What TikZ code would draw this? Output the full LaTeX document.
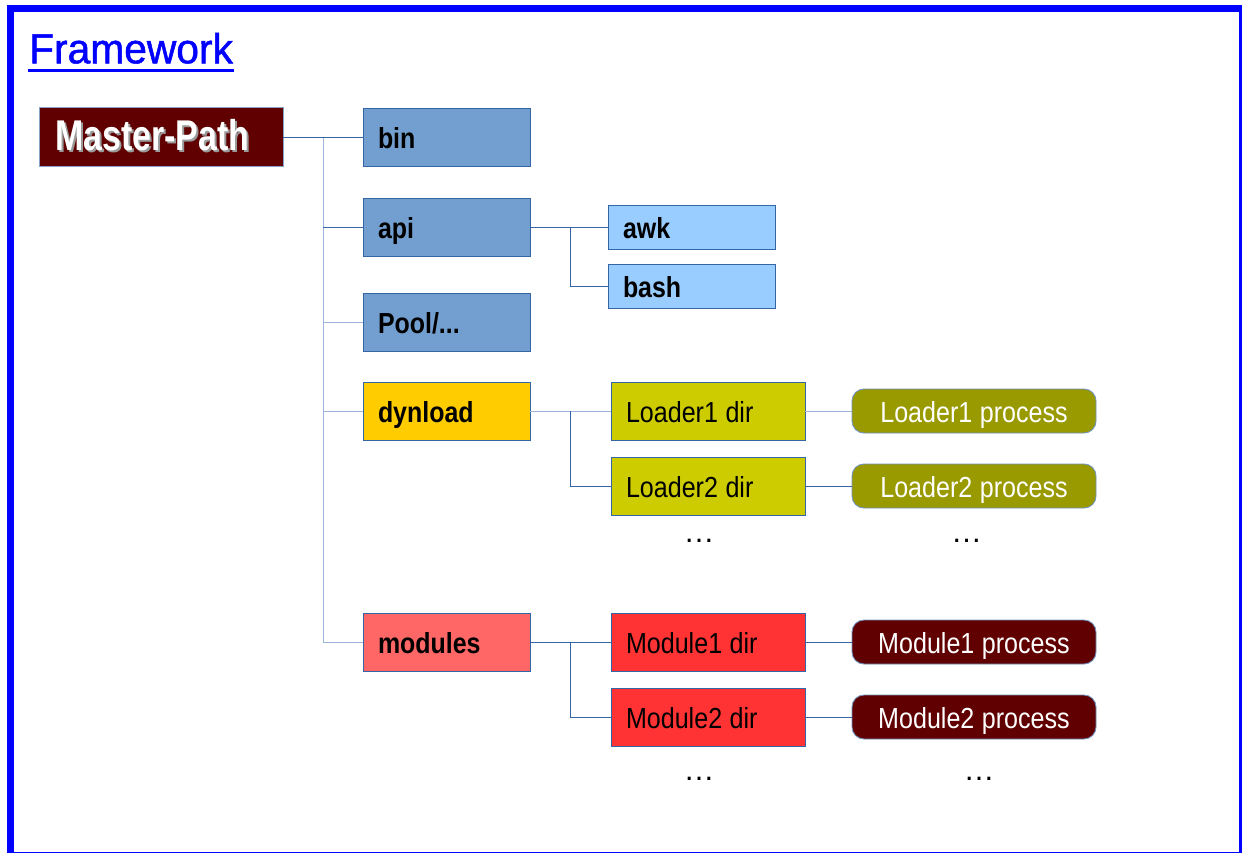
\documentclass[tikz,border=0pt]{standalone}
\usepackage{fontspec}
\setmainfont{Liberation Sans}
\newfontfamily\narrowfont[FakeStretch=0.865]{Liberation Sans}
\newfontfamily\boldnarrowfont[FakeStretch=0.86]{Liberation Sans Bold}
\newfontfamily\mpfont[FakeStretch=0.79]{Liberation Sans Bold}
\newfontfamily\titlefont[FakeStretch=0.97,FakeBold=1.2]{Liberation Sans}
\definecolor{framecol}{HTML}{0000FF}
\definecolor{maroonc}{HTML}{600000}
\definecolor{bluec}{HTML}{729FCF}
\definecolor{lightbluec}{HTML}{99CCFF}
\definecolor{borderc}{HTML}{3465A4}
\definecolor{trunkc}{HTML}{9DB5DC}
\definecolor{yellowc}{HTML}{FFCC00}
\definecolor{pinkc}{HTML}{FF6666}
\definecolor{olivec}{HTML}{CCCC00}
\definecolor{darkolivec}{HTML}{999900}
\definecolor{redc}{HTML}{FF3333}
\definecolor{shadowc}{HTML}{9A9A9A}
\tikzset{
  tightspace/.style={execute at begin node={\spaceskip=7.5pt\relax\xspaceskip=7.5pt\relax}},
  basebox/.style={draw=borderc, line width=0.9pt, rectangle, inner ysep=0pt, inner xsep=15pt, align=left, text height=22pt, text depth=0pt, tightspace},
  colone/.style={basebox, text width=137pt, minimum height=58pt, font=\boldnarrowfont\fontsize{29}{34}\selectfont},
  leafbox/.style={basebox, text width=137pt, minimum height=44pt, fill=lightbluec, font=\boldnarrowfont\fontsize{29}{34}\selectfont},
  dirbox/.style={basebox, text width=164pt, minimum height=58pt, font=\narrowfont\fontsize{29}{34}\selectfont},
  procbox/.style={draw=borderc!70, line width=0.9pt, rectangle, rounded corners=12pt, minimum width=244pt, minimum height=44pt, inner sep=0pt, text height=22pt, text depth=0pt, text=white, font=\narrowfont\fontsize{29}{34}\selectfont, tightspace},
  conn/.style={draw=borderc, line width=0.9pt},
  trunk/.style={draw=trunkc, line width=1pt},
  dots/.style={font=\fontsize{31}{36}\selectfont, inner sep=0pt, anchor=base}
}
\begin{document}
\begin{tikzpicture}[x=1pt,y=-1pt]
\useasboundingbox (0,0) rectangle (1242,852);
\clip (0,0) rectangle (1242,852);
\fill[white] (0,0) rectangle (1242,852);
\draw[framecol, line width=7pt] (10,8) rectangle (1242.5,855);

% title
\node[anchor=base west, inner sep=0pt, text=framecol, font=\titlefont\fontsize{42}{48}\selectfont] (title) at (29,63.3) {Framework};
\draw[framecol, line width=3pt] (28,70) -- (234,70);

% master path
\node[basebox, draw=borderc!60, fill=maroonc, minimum width=244pt, minimum height=59pt] (mp) at (161,137) {};
\node[anchor=base west, inner sep=0pt, text=shadowc, font=\mpfont\fontsize{43}{48}\selectfont] (mpshadow) at (57,152.7) {Master-Path};
\node[anchor=base west, inner sep=0pt, text=white, font=\mpfont\fontsize{43}{48}\selectfont] (mptext) at (55,150.7) {Master-Path};

% first column
\node[colone, fill=bluec] (bin) at (446.5,137) {bin};
\node[colone, fill=bluec] (api) at (446.5,227) {api};
\node[colone, fill=bluec] (pool) at (446.5,322) {Pool/...};
\node[colone, fill=yellowc] (dyn) at (446.5,411) {dynload};
\node[colone, fill=pinkc] (mods) at (446.5,642) {modules};

% api leaves
\node[leafbox] (awk) at (691.5,227) {awk};
\node[leafbox] (bash) at (691.5,286) {bash};

% loaders
\node[dirbox, fill=olivec] (l1) at (708,411) {Loader1 dir};
\node[dirbox, fill=olivec] (l2) at (708,486) {Loader2 dir};
\node[procbox, fill=darkolivec] (p1) at (974,411) {Loader1 process};
\node[procbox, fill=darkolivec] (p2) at (974,486) {Loader2 process};
\node[dots] (d1) at (699,542) {…};
\node[dots] (d2) at (966.5,542) {…};

% modules
\node[dirbox, fill=redc] (m1) at (708,642) {Module1 dir};
\node[dirbox, fill=redc] (m2) at (708,717) {Module2 dir};
\node[procbox, fill=maroonc] (q1) at (974,642) {Module1 process};
\node[procbox, fill=maroonc] (q2) at (974,717) {Module2 process};
\node[dots] (d3) at (699,780) {…};
\node[dots] (d4) at (979,780) {…};

% connectors
\coordinate (tx) at (323,0);
\coordinate (sx) at (570,0);
\draw[trunk] (tx |- mp.east) -- (tx |- mods.west);
\draw[conn] (mp.east) -- (bin.west);
\draw[conn] (tx |- api.west) -- (api.west);
\draw[trunk] (tx |- pool.west) -- (pool.west);
\draw[trunk] (tx |- dyn.west) -- (dyn.west);
\draw[trunk] (tx |- mods.west) -- (mods.west);

\draw[conn] (api.east) -- (awk.west);
\draw[conn] (sx |- api.east) |- (bash.west);

\draw[trunk] (dyn.east) -- (l1.west);
\draw[conn] (sx |- dyn.east) |- (l2.west);
\draw[trunk] (l1.east) -- (p1.west);
\draw[conn] (l2.east) -- (p2.west);

\draw[conn] (mods.east) -- (m1.west);
\draw[conn] (sx |- mods.east) |- (m2.west);
\draw[conn] (m1.east) -- (q1.west);
\draw[conn] (m2.east) -- (q2.west);
\end{tikzpicture}
\end{document}
